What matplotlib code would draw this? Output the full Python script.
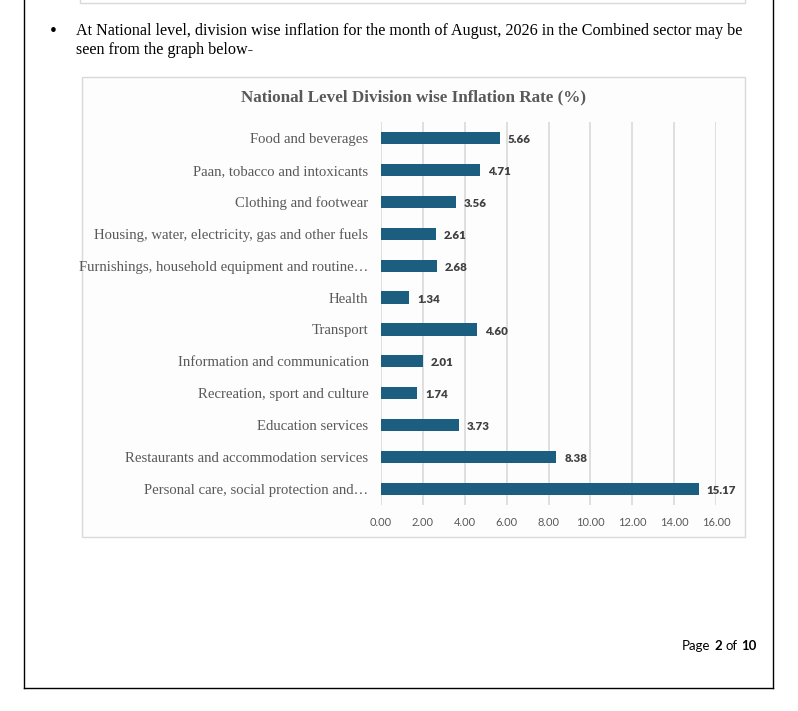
import matplotlib.pyplot as plt
from matplotlib.patches import Rectangle
from matplotlib.lines import Line2D

# --- DATA ---
divisions = [
    "Food and beverages",
    "Paan, tobacco and intoxicants",
    "Clothing and footwear",
    "Housing, water, electricity, gas and other fuels",
    "Furnishings, household equipment and routine\u2026",
    "Health",
    "Transport",
    "Information and communication",
    "Recreation, sport and culture",
    "Education services",
    "Restaurants and accommodation services",
    "Personal care, social protection and\u2026",
]
inflation = [5.66, 4.71, 3.56, 2.61, 2.68, 1.34, 4.60, 2.01, 1.74, 3.73, 8.38, 15.17]
x_ticks = [0, 2, 4, 6, 8, 10, 12, 14, 16]

W, H = 798, 711
SERIF = ["Liberation Serif", "DejaVu Serif"]
SANS = ["Lato", "DejaVu Sans"]
BAR = "#1b5e7f"
GREY = "#595959"


def fx(px):
    return px / W


def fy(py):
    return 1 - py / H


fig = plt.figure(figsize=(W / 100, H / 100), dpi=100)
fig.patch.set_facecolor("white")

# page border (left, right, bottom)
fig.add_artist(Line2D([fx(24), fx(24)], [fy(0), fy(688)], color="black", lw=1.0))
fig.add_artist(Line2D([fx(773), fx(773)], [fy(0), fy(688)], color="black", lw=1.0))
fig.add_artist(Line2D([fx(24), fx(773)], [fy(688), fy(688)], color="black", lw=1.0))

# bottom edge of the previous chart box
fig.add_artist(Rectangle((fx(80), fy(3)), fx(745) - fx(80), fy(-5) - fy(3),
                         fill=False, edgecolor="#d9d9d9", lw=1.0))

# bullet text
fig.text(fx(50), fy(31), "\u2022", fontsize=14, va="center", ha="left", family=SERIF)
fig.text(fx(76), fy(31), "At National level, division wise inflation for the month of August, 2026 "
         "in the Combined sector may be", fontsize=11.6, va="center", ha="left", family=SERIF)
fig.text(fx(76), fy(50), "seen from the graph below-", fontsize=11.6, va="center", ha="left",
         family=SERIF)

# chart box
fig.add_artist(Rectangle((fx(82), fy(537)), fx(745) - fx(82), fy(77) - fy(537),
                         facecolor="#fdfdfd", edgecolor="#d9d9d9", lw=1.0, zorder=-5))
fig.text(fx(413), fy(97), "National Level Division wise Inflation Rate (%)", fontsize=12.3,
         fontweight="bold", color=GREY, ha="center", va="center", family=SERIF)

ax = fig.add_axes([fx(381), fy(505), fx(716) - fx(381), fy(122) - fy(505)], zorder=2)
ax.set_facecolor("none")
ypos = list(range(len(divisions)))
ax.barh(ypos, inflation, height=0.38, color=BAR, zorder=3)
for y, v in zip(ypos, inflation):
    ax.text(v + 0.38, y + 0.05, f"{v:.2f}", va="center", ha="left", fontsize=8.3,
            fontweight="heavy", color="#404040", family=SANS)

ax.set_xlim(0, 16)
ax.set_ylim(len(divisions) - 0.5, -0.5)
ax.set_xticks(x_ticks)
ax.set_xticklabels([f"{t:.2f}" for t in x_ticks], fontsize=8, color=GREY, family=SANS)
ax.set_yticks(ypos)
ax.set_yticklabels(divisions, fontsize=10.6, color=GREY, family=SERIF)
ax.tick_params(axis="both", length=0)
ax.tick_params(axis="x", pad=9)
ax.tick_params(axis="y", pad=9)
ax.grid(axis="x", color="#d9d9d9", lw=1.2, zorder=0)
for s in ax.spines.values():
    s.set_visible(False)

# page number, built right to left from its pieces
renderer = fig.canvas.get_renderer()
x_right = fx(757)
pieces = [("10", "bold", 0), ("of", "normal", 4), ("2", "bold", 4), ("Page", "normal", 4)]
for txt, wt, gap in pieces:
    x_right -= gap / W
    t = fig.text(x_right, fy(650), txt, fontsize=9.5, fontweight=wt, ha="right",
                 va="baseline", family=SANS)
    bb = t.get_window_extent(renderer)
    x_right -= bb.width / W

plt.savefig("out.png", dpi=100)
